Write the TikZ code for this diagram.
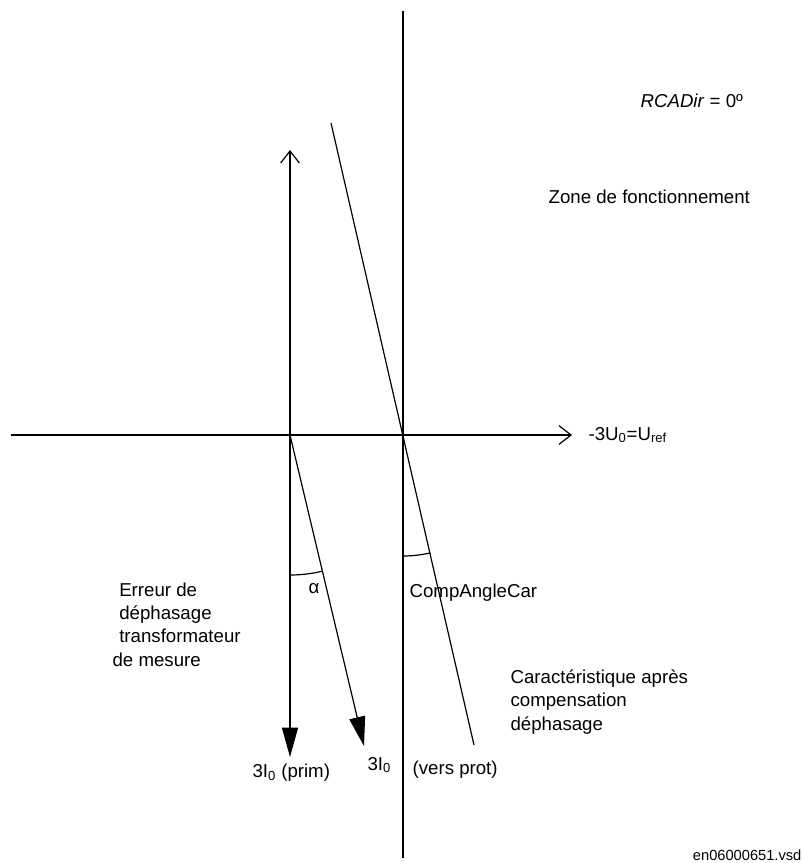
\documentclass[tikz,border=0pt]{standalone}
\usepackage{fontspec}
\setmainfont{Liberation Sans}
\usetikzlibrary{arrows.meta, calc}

\begin{document}
\begin{tikzpicture}[x=0.75pt, y=-0.75pt, line width=0.9pt,
    openarrow/.style={-{Straight Barb[length=9pt,width=14pt]}},
    fullarrow/.style={-{Triangle[length=22pt,width=12pt]}},
    lbl/.style={font=\fontsize{14}{17.5}\selectfont, inner sep=0pt},
    small/.style={font=\fontsize{11}{13}\selectfont, inner sep=0pt}]
  \useasboundingbox (0,0) rectangle (802,863);
  % origins
  \coordinate (Iorig) at (290,435);
  \coordinate (Uorig) at (403,435);
  % axes
  \coordinate (Xleft) at (11,435);
  \coordinate (Xright) at (572,435);
  \coordinate (Ytop) at (403,11);
  \coordinate (Ybot) at (403,858);
  \draw (Ytop) -- (Ybot);
  \draw[openarrow] (Xleft) -- (Xright);
  \node[lbl, anchor=west] (uref) at (588,435) {-3U\textsubscript{0}=U\textsubscript{ref}};
  % current vectors
  \coordinate (Iup) at (290,150);
  \coordinate (Iprim) at (290,757);
  \coordinate (Iprot) at (364,746);
  \draw[openarrow] (Iorig) -- (Iup);
  \draw[fullarrow] (Iorig) -- (Iprim);
  \draw[fullarrow] (Iorig) -- (Iprot);
  % characteristic
  \coordinate (Ctop) at (331,123);
  \coordinate (Cbot) at (474,745);
  \draw (Ctop) -- (Cbot);
  % angles
  \draw ($(Iorig)+(90:140)$) arc[start angle=90, end angle=76.5, radius=140];
  \draw ($(Uorig)+(90:121)$) arc[start angle=90, end angle=77, radius=121];
  \node[lbl] (alpha) at (314,589) {α};
  \node[lbl, anchor=west] (cac) at (409,593) {CompAngleCar};
  % labels
  \node[lbl, anchor=west] (rca) at (640,101) {\textit{RCADir} = 0º};
  \node[lbl, anchor=west] (zone) at (548,197) {Zone de fonctionnement};
  \node[lbl, align=left, anchor=north west] (err) at (112,582)
    {\hspace*{5pt}Erreur de\\ \hspace*{5pt}déphasage\\ \hspace*{5pt}transformateur\\ de mesure};
  \node[lbl, align=left, anchor=north west] (carac) at (510,669)
    {Caractéristique après\\ compensation\\ déphasage};
  \node[lbl, anchor=west] (iprim) at (252,773) {3I\textsubscript{0} (prim)};
  \node[lbl, anchor=west] (iprot) at (367,765) {3I\textsubscript{0}};
  \node[lbl, anchor=west] (vers) at (412,770) {(vers prot)};
  \node[small, anchor=east] (file) at (802,855) {en06000651.vsd};
\end{tikzpicture}
\end{document}
